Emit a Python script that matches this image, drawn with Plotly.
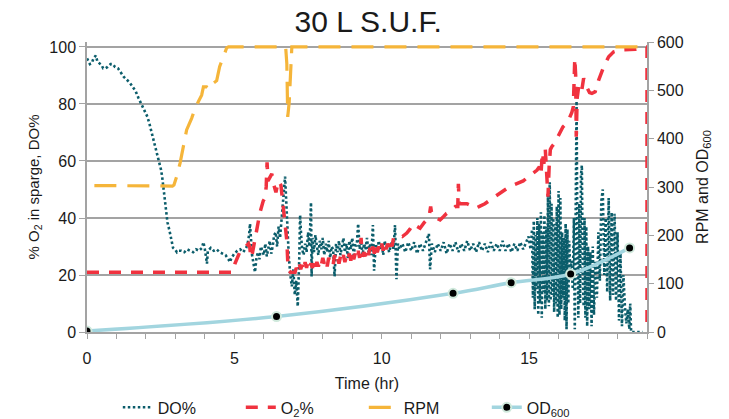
import plotly.graph_objects as go

# ---------------- data ----------------
do_t = [0.00, 0.05, 0.10, 0.17, 0.22, 0.30, 0.35, 0.40, 0.50, 0.55, 0.62, 0.70, 0.80, 0.88, 0.95,
        1.05, 1.15, 1.25, 1.35, 1.45, 1.55, 1.65, 1.75, 1.85, 1.95, 2.05, 2.12, 2.18, 2.25, 2.31,
        2.37, 2.42, 2.47, 2.51, 2.55, 2.59, 2.62, 2.65, 2.68, 2.73, 2.80, 2.86, 2.92, 3.00, 3.05,
        3.10, 3.20, 3.30, 3.40, 3.50, 3.60, 3.70, 3.80, 3.90, 3.95, 4.00, 4.07, 4.10, 4.20, 4.30,
        4.40, 4.50, 4.60, 4.70, 4.80, 4.85, 4.90, 5.00, 5.10, 5.20, 5.30, 5.40, 5.45, 5.50, 5.53,
        5.56, 5.60, 5.65, 5.70, 5.75, 5.80, 5.85, 5.90, 6.00, 6.05, 6.10, 6.15, 6.20, 6.25, 6.30,
        6.35, 6.40, 6.45, 6.50, 6.55, 6.60, 6.65, 6.68, 6.72, 6.75, 6.80, 6.85, 6.90, 6.95, 7.00,
        7.05, 7.10, 7.15, 7.20, 7.23, 7.27, 7.30, 7.35, 7.40, 7.45, 7.50, 7.55, 7.60, 7.62, 7.65,
        7.70, 7.75, 7.80, 7.85, 7.90, 7.95, 8.00, 8.05, 8.10, 8.15, 8.20, 8.25, 8.30, 8.35, 8.40,
        8.45, 8.50, 8.55, 8.60, 8.65, 8.70, 8.75, 8.80, 8.85, 8.90, 8.95, 9.00, 9.05, 9.10, 9.15,
        9.20, 9.25, 9.30, 9.35, 9.40, 9.45, 9.50, 9.55, 9.60, 9.65, 9.70, 9.74, 9.80, 9.85, 9.90,
        9.95, 10.00, 10.05, 10.10, 10.15, 10.20, 10.25, 10.30, 10.35, 10.40, 10.45, 10.50, 10.55, 10.60, 10.70,
        10.80, 10.90, 11.00, 11.10, 11.20, 11.30, 11.40, 11.50, 11.60, 11.64, 11.70, 11.80, 11.90, 12.00, 12.10,
        12.20, 12.30, 12.40, 12.50, 12.60, 12.70, 12.80, 12.90, 13.00, 13.10, 13.20, 13.30, 13.40, 13.50, 13.60,
        13.70, 13.80, 13.90, 14.00, 14.10, 14.20, 14.30, 14.40, 14.50, 14.60, 14.70, 14.80, 14.90, 14.98, 15.05,
        15.10, 15.13, 15.16, 15.19, 15.22, 15.25, 15.28, 15.31, 15.34, 15.37, 15.40, 15.43, 15.46, 15.49, 15.52,
        15.55, 15.58, 15.61, 15.64, 15.67, 15.70, 15.73, 15.76, 15.79, 15.82, 15.85, 15.88, 15.91, 15.94, 15.97,
        16.00, 16.03, 16.06, 16.09, 16.12, 16.15, 16.18, 16.21, 16.24, 16.27, 16.30, 16.33, 16.36, 16.40, 16.44,
        16.48, 16.52, 16.55, 16.58, 16.61, 16.64, 16.67, 16.70, 16.73, 16.76, 16.79, 16.82, 16.85, 16.88, 16.91,
        16.94, 16.97, 17.00, 17.04, 17.08, 17.12, 17.16, 17.20, 17.25, 17.30, 17.35, 17.40, 17.45, 17.50, 17.55,
        17.60, 17.65, 17.70, 17.75, 17.80, 17.85, 17.90, 17.95, 18.00, 18.05, 18.10, 18.15, 18.20, 18.25, 18.30,
        18.35, 18.40, 18.43, 18.46, 18.55, 18.70, 18.85]
do_v = [96.0, 95.0, 94.0, 94.5, 96.0, 97.0, 95.0, 94.5, 93.5, 92.5, 92.5, 93.0, 94.0, 94.0, 93.0,
        92.5, 91.0, 89.5, 88.5, 87.5, 86.0, 84.5, 82.0, 80.0, 78.0, 75.5, 73.0, 70.5, 68.5, 66.0,
        63.5, 61.5, 59.0, 57.0, 54.5, 51.0, 47.5, 45.0, 41.5, 38.5, 35.5, 32.0, 29.5, 28.8, 28.0,
        28.5, 28.5, 28.0, 29.0, 28.5, 28.0, 29.0, 28.5, 29.5, 31.5, 29.0, 24.0, 28.5, 29.5, 28.5,
        29.0, 28.0, 27.5, 27.0, 25.5, 24.5, 26.0, 27.5, 28.5, 29.0, 28.0, 29.5, 31.0, 34.0, 38.0,
        32.0, 27.0, 24.0, 21.0, 26.0, 28.0, 25.5, 30.0, 27.0, 31.0, 26.5, 29.0, 32.0, 27.5, 30.0,
        34.0, 35.0, 30.0, 37.0, 33.0, 40.0, 46.0, 50.0, 54.5, 48.0, 35.0, 26.0, 20.0, 16.0, 22.0,
        13.0, 18.0, 9.0, 25.0, 41.0, 33.0, 29.0, 27.0, 31.0, 28.0, 35.0, 30.0, 45.5, 19.5, 33.0,
        28.0, 34.0, 30.0, 27.0, 32.0, 29.0, 33.0, 27.0, 31.0, 28.0, 32.0, 26.0, 30.0, 29.0, 19.5,
        31.0, 28.0, 32.0, 27.0, 30.0, 33.0, 28.0, 31.0, 26.0, 32.0, 29.0, 33.0, 27.0, 31.0, 30.0,
        38.0, 29.0, 32.0, 27.0, 31.0, 29.0, 33.0, 28.0, 31.0, 27.0, 37.5, 21.5, 31.0, 28.0, 32.0,
        29.0, 31.0, 27.0, 32.0, 29.0, 31.0, 28.0, 30.0, 32.0, 29.0, 37.5, 18.5, 31.0, 29.0, 31.0,
        28.0, 31.5, 28.5, 31.5, 27.5, 31.0, 28.5, 31.5, 34.5, 22.0, 31.0, 28.0, 31.0, 28.5, 31.5,
        27.5, 31.0, 28.5, 31.5, 28.0, 31.0, 28.5, 32.0, 28.5, 31.0, 28.0, 31.5, 28.5, 31.0, 28.0,
        31.5, 28.5, 31.0, 28.5, 32.0, 28.5, 31.0, 28.0, 31.0, 28.5, 31.5, 29.0, 31.5, 33.5, 29.0,
        36.0, 12.0, 39.0, 8.0, 34.0, 15.0, 40.0, 6.0, 38.0, 10.0, 42.0, 5.0, 35.0, 14.0, 41.0,
        8.0, 37.0, 11.0, 48.0, 9.0, 52.5, 11.0, 45.0, 13.0, 40.0, 7.0, 38.0, 10.0, 44.0, 5.0,
        49.5, 6.0, 47.0, 8.0, 35.0, 12.0, 33.0, 4.0, 38.0, 1.0, 36.0, 10.0, 32.0, 20.0, 25.0,
        15.0, 40.0, 1.0, 70.0, 81.0, 30.0, 5.0, 45.0, 10.0, 55.0, 58.5, 20.0, 9.0, 40.0, 5.0,
        37.0, 2.0, 30.0, 8.0, 28.0, 2.0, 30.0, 6.0, 25.0, 12.0, 35.0, 18.0, 46.0, 50.0, 20.0,
        40.0, 14.0, 47.0, 11.0, 42.0, 13.0, 41.5, 11.0, 35.0, 4.0, 27.5, 2.0, 20.0, 9.0, 3.0,
        8.0, 1.0, 10.0, 0.0, 0.0, 0.0, 0.0]

o2_t = [0.00, 4.95, 5.02, 5.17, 5.30, 5.48, 5.52, 5.56, 5.60, 5.70, 5.76, 5.87, 5.98, 6.04, 6.08,
        6.11, 6.14, 6.20, 6.27, 6.33, 6.41, 6.47, 6.50, 6.58, 6.62, 6.66, 6.72, 6.78, 6.81, 6.84,
        6.90, 7.06, 7.10, 7.15, 7.20, 7.25, 7.30, 7.35, 7.40, 7.45, 7.50, 7.55, 7.60, 7.65, 7.70,
        7.75, 7.80, 7.85, 7.90, 7.95, 8.00, 8.05, 8.10, 8.15, 8.20, 8.25, 8.30, 8.35, 8.40, 8.45,
        8.50, 8.55, 8.60, 8.65, 8.70, 8.75, 8.80, 8.85, 8.90, 8.95, 9.00, 9.05, 9.10, 9.15, 9.20,
        9.25, 9.30, 9.33, 9.40, 9.45, 9.50, 9.55, 9.60, 9.65, 9.70, 9.75, 9.80, 9.85, 9.90, 9.95,
        10.00, 10.05, 10.10, 10.15, 10.20, 10.25, 10.30, 10.35, 10.40, 10.50, 10.60, 10.70, 10.85, 10.95, 11.08,
        11.20, 11.30, 11.45, 11.60, 11.66, 11.70, 11.85, 11.98, 12.10, 12.20, 12.35, 12.50, 12.58, 12.60, 12.63,
        12.75, 12.89, 13.00, 13.17, 13.30, 13.50, 13.70, 13.90, 14.10, 14.25, 14.45, 14.64, 14.80, 14.98, 15.10,
        15.27, 15.35, 15.40, 15.45, 15.50, 15.55, 15.60, 15.64, 15.68, 15.72, 15.77, 15.85, 15.95, 16.06, 16.15,
        16.25, 16.34, 16.45, 16.50, 16.55, 16.58, 16.60, 16.63, 16.68, 16.74, 16.79, 16.85, 16.95, 17.05, 17.13,
        17.24, 17.36, 17.53, 17.70, 17.87, 18.10, 18.40, 18.60, 18.88, 19.00, 19.00]
o2_v = [21.0, 21.0, 24.0, 27.7, 29.0, 31.0, 30.0, 26.0, 27.0, 33.0, 37.0, 42.0, 46.0, 47.0, 51.0,
        59.5, 53.0, 54.0, 55.5, 52.0, 49.0, 52.0, 53.0, 51.5, 47.5, 44.0, 38.0, 32.0, 25.0, 21.5,
        21.0, 21.0, 22.5, 21.5, 24.0, 22.0, 23.5, 21.5, 24.5, 22.5, 25.0, 23.0, 24.0, 22.5, 25.5,
        23.0, 24.5, 23.0, 25.0, 23.5, 26.0, 24.0, 25.5, 23.0, 26.0, 24.5, 25.0, 23.5, 27.0, 24.5,
        26.0, 24.0, 26.5, 25.0, 27.0, 24.5, 26.5, 25.0, 27.5, 25.0, 28.0, 25.5, 27.5, 26.0, 28.5,
        26.0, 33.0, 26.5, 28.0, 26.5, 29.0, 27.0, 29.5, 27.0, 30.0, 27.5, 30.5, 28.0, 30.0, 28.5,
        31.0, 28.5, 31.5, 29.0, 31.0, 29.5, 32.0, 30.0, 33.0, 33.5, 34.0, 33.5, 34.7, 36.0, 38.0,
        37.0, 36.4, 38.5, 40.0, 44.0, 41.0, 40.0, 39.3, 40.5, 41.6, 42.5, 44.0, 44.0, 52.0, 45.0,
        45.0, 45.0, 44.5, 43.4, 44.0, 45.0, 46.5, 48.0, 49.5, 50.4, 51.5, 52.2, 53.0, 54.5, 55.5,
        56.8, 58.0, 55.0, 63.0, 59.0, 64.0, 57.0, 47.5, 58.0, 64.0, 65.0, 66.0, 68.0, 70.0, 72.0,
        73.0, 74.4, 77.0, 79.0, 96.0, 90.0, 68.5, 82.0, 86.0, 84.0, 85.0, 89.0, 86.0, 84.0, 83.7,
        84.3, 88.4, 93.0, 96.6, 98.3, 99.0, 99.0, 99.2, 100.0, 100.0, 0.0]

rpm_t = [0.25, 2.90, 2.95, 3.04, 3.16, 3.27, 3.38, 3.55, 3.67, 3.78, 3.89, 3.95, 4.06, 4.17, 4.29,
         4.40, 4.50, 4.63, 4.74, 4.80, 6.74, 6.78, 6.81, 6.86, 6.90, 6.95, 19.0]
rpm_v = [303, 302, 304, 321, 350, 383, 418, 442, 463, 477, 490, 507, 507, 502, 515,
         520, 549, 570, 588, 590, 590, 555, 445, 475, 530, 590, 590]

od_t = [0.0, 6.43, 12.42, 14.39, 16.41, 18.41]
od_v = [2, 32, 80, 102, 120, 174]

# ---------------- styling ----------------
FONT = "Liberation Sans, Arial, Helvetica, sans-serif"
TXT = "#1a1a1a"
GRID = "#a3a3a3"

fig = go.Figure()
fig.add_trace(go.Scatter(x=do_t, y=do_v, name="DO%", mode="lines",
                         line=dict(color="#0b5d6b", width=2.6, dash="2.5px,2.5px")))
fig.add_trace(go.Scatter(x=o2_t, y=o2_v, name="O<sub>2</sub>%", mode="lines",
                         line=dict(color="#f0323f", width=3.5, dash="12px,10px")))
fig.add_trace(go.Scatter(x=rpm_t, y=rpm_v, name="RPM", mode="lines", yaxis="y2",
                         line=dict(color="#f5b53a", width=3.2, dash="22px,11px")))
fig.add_trace(go.Scatter(x=od_t, y=od_v, name="OD<sub>600</sub>", mode="lines+markers", yaxis="y2",
                         line=dict(color="#a2d5df", width=3.5, shape="spline"),
                         marker=dict(color="black", size=9,
                                     line=dict(color="#cfe9dc", width=2))))

fig.update_layout(
    width=729, height=419,
    margin=dict(l=87, r=82, t=42, b=87, autoexpand=False),
    paper_bgcolor="white", plot_bgcolor="white",
    font=dict(family=FONT, color=TXT, size=16),
    title=dict(text="30 L S.U.F.", x=0.505, xanchor="center", y=0.948, yanchor="middle",
               font=dict(size=30, color=TXT)),
    showlegend=True,
    legend=dict(orientation="h", x=0.055, xanchor="left", y=-0.26, yanchor="middle",
                entrywidth=78, entrywidthmode="pixels", font=dict(size=16),
                bgcolor="rgba(0,0,0,0)"),
    xaxis=dict(range=[0, 19], tickvals=[0, 5, 10, 15], showgrid=False, automargin=False,
               showline=True, linecolor=GRID, linewidth=1.5,
               ticks="outside", ticklen=5, tickcolor=GRID, tickwidth=1.2,
               minor=dict(dtick=1, ticks="outside", ticklen=5, tickcolor=GRID, tickwidth=1.2,
                          showgrid=False),
               tickfont=dict(size=16), ticklabelstandoff=6,
               title=dict(text="Time (hr)", font=dict(size=16), standoff=12),
               zeroline=False),
    yaxis=dict(range=[0, 101.75], tickvals=[0, 20, 40, 60, 80, 100], automargin=False,
               showgrid=True, gridcolor=GRID, gridwidth=1.5,
               showline=True, linecolor=GRID, linewidth=1.5,
               ticks="outside", ticklen=6, tickcolor=GRID, tickwidth=1.2,
               tickfont=dict(size=16), zeroline=False,
               title=dict(text="% O<sub>2</sub> in sparge, DO%", font=dict(size=15), standoff=6)),
    yaxis2=dict(range=[0, 600], tickvals=[0, 100, 200, 300, 400, 500, 600], automargin=False,
                overlaying="y", side="right", showgrid=False,
                showline=True, linecolor=GRID, linewidth=1.5,
                ticks="outside", ticklen=5, tickcolor=GRID, tickwidth=1.2,
                tickfont=dict(size=16), zeroline=False,
                title=dict(text="RPM and OD<sub>600</sub>", font=dict(size=16), standoff=14)),
)

fig.write_html("out.html", config={"displayModeBar": False},
               post_script="document.body.style.margin='0px';")
